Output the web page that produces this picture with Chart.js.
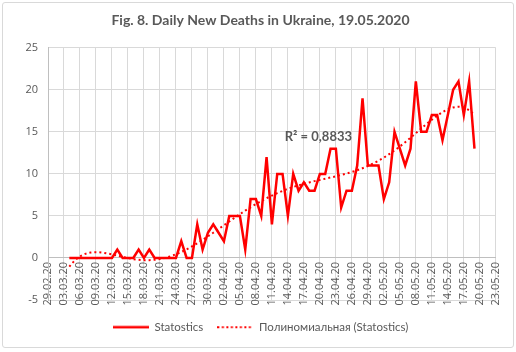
<!DOCTYPE html>
<html>
<head>
<meta charset="utf-8">
<script src="https://cdn.jsdelivr.net/npm/chart.js@4.4.1/dist/chart.umd.min.js"></script>
<style>
  body { margin: 0; background: #fff; }
  .box { position: absolute; left: 2px; top: 2px; width: 510px; height: 344px; border: 1px solid #d9d9d9; border-radius: 3px; }
</style>
</head>
<body>
<div class="box"><canvas id="chartDeaths" width="510" height="344"></canvas></div>
<script>
  // x axis: day index counted from 29.02.20 (0) to 23.05.20 (84), a label every 3 days
  const tickLabels = ['29.02.20', '03.03.20', '06.03.20', '09.03.20', '12.03.20', '15.03.20', '18.03.20',
    '21.03.20', '24.03.20', '27.03.20', '30.03.20', '02.04.20', '05.04.20', '08.04.20', '11.04.20',
    '14.04.20', '17.04.20', '20.04.20', '23.04.20', '26.04.20', '29.04.20', '02.05.20', '05.05.20',
    '08.05.20', '11.05.20', '14.05.20', '17.05.20', '20.05.20', '23.05.20'];

  // daily new deaths, 04.03.20 .. 19.05.20
  const firstDay = 4;
  const deathsMarch = [0, 0, 0, 0, 0, 0, 0, 0, 0, 1, 0, 0, 0, 1, 0, 1, 0, 0, 0, 0, 0, 2, 0, 0, 4, 1, 3, 4];
  const deathsApril = [3, 2, 5, 5, 5, 1, 7, 7, 5, 12, 4, 10, 10, 5, 10, 8, 9, 8, 8, 10, 10, 13, 13, 6, 8, 8, 11, 19, 11, 11];
  const deathsMay = [11, 7, 9, 15, 13, 11, 13, 21, 15, 15, 17, 17, 14, 17, 20, 21, 17, 21, 13];
  const deaths = deathsMarch.concat(deathsApril, deathsMay);
  const days = deaths.map((v, i) => firstDay + i);

  const trendOrder = 6;
  const r2Text = 'R² = 0,8833';

  // least squares polynomial trendline (like Excel's "polynomial" trendline)
  function polyFit(xs, ys, order) {
    const n = order + 1;
    const mid = (xs[0] + xs[xs.length - 1]) / 2;
    const half = (xs[xs.length - 1] - xs[0]) / 2;
    const A = Array.from({length: n}, () => new Array(n + 1).fill(0));
    xs.forEach((x, k) => {
      const t = (x - mid) / half;
      const p = [];
      for (let i = 0; i < n; i++) p.push(Math.pow(t, i));
      for (let i = 0; i < n; i++) {
        for (let j = 0; j < n; j++) A[i][j] += p[i] * p[j];
        A[i][n] += p[i] * ys[k];
      }
    });
    for (let c = 0; c < n; c++) {
      let piv = c;
      for (let r = c + 1; r < n; r++) if (Math.abs(A[r][c]) > Math.abs(A[piv][c])) piv = r;
      [A[c], A[piv]] = [A[piv], A[c]];
      for (let r = 0; r < n; r++) {
        if (r === c) continue;
        const f = A[r][c] / A[c][c];
        for (let j = c; j <= n; j++) A[r][j] -= f * A[c][j];
      }
    }
    const coef = A.map((row, i) => row[n] / row[i]);
    return x => {
      const t = (x - mid) / half;
      return coef.reduce((s, a, i) => s + a * Math.pow(t, i), 0);
    };
  }

  const trend = polyFit(days, deaths, trendOrder);
  const trendPoints = [];
  for (let d = days[0]; d <= days[days.length - 1]; d += 0.5) trendPoints.push({x: d, y: trend(d)});

  const grey = '#595959';
  const font = 'Lato, "Open Sans", sans-serif';
  const tickFont = '"Open Sans", sans-serif';

  // little line samples for the legend (solid / dotted)
  function legendSample(dash, width) {
    const c = document.createElement('canvas');
    c.width = 36;
    c.height = 4;
    const g = c.getContext('2d');
    g.strokeStyle = '#ff0000';
    g.lineWidth = width;
    g.setLineDash(dash);
    g.beginPath();
    g.moveTo(0, 2);
    g.lineTo(36, 2);
    g.stroke();
    return c;
  }

  const r2Label = {
    id: 'r2Label',
    afterDatasetsDraw(chart) {
      const c = chart.ctx;
      c.save();
      c.font = 'bold 13px ' + font;
      c.fillStyle = grey;
      c.textBaseline = 'middle';
      c.fillText(r2Text, chart.scales.x.getPixelForValue(44.4), chart.scales.y.getPixelForValue(14.4));
      c.restore();
    }
  };

  const ctx = document.getElementById('chartDeaths');

  new Chart(ctx, {
    type: 'line',
    data: {
      datasets: [{
        label: 'Statostics',
        data: days.map((d, i) => ({x: d, y: deaths[i]})),
        borderColor: '#ff0000',
        backgroundColor: '#ff0000',
        borderWidth: 2.5,
        pointRadius: 0,
        pointStyle: legendSample([], 2.5),
        tension: 0
      }, {
        label: 'Полиномиальная (Statostics)',
        data: trendPoints,
        borderColor: '#ff0000',
        backgroundColor: '#ff0000',
        borderWidth: 2,
        borderDash: [2, 3],
        pointRadius: 0,
        pointStyle: legendSample([2, 2.5], 2),
        tension: 0
      }]
    },
    options: {
      responsive: false,
      animation: false,
      devicePixelRatio: 1,
      layout: {
        padding: {left: 20, right: 15, top: 0, bottom: 4}
      },
      plugins: {
        title: {
          display: true,
          text: 'Fig. 8. Daily New Deaths in Ukraine, 19.05.2020',
          color: grey,
          font: {family: font, size: 14, weight: 'bold'},
          padding: {top: 9, bottom: 19}
        },
        legend: {
          position: 'bottom',
          title: {display: true, text: '', font: {size: 1}, padding: {top: 0, bottom: 6.3}},
          labels: {
            usePointStyle: true,
            pointStyleWidth: 36,
            color: grey,
            font: {family: font, size: 11.5},
            padding: 14
          }
        },
        tooltip: {enabled: false}
      },
      scales: {
        x: {
          type: 'linear',
          position: {y: 0},
          min: 0,
          max: tickLabels.length * 3 - 3,
          afterBuildTicks: (s) => { s.ticks = tickLabels.map((l, i) => ({value: i * 3})); },
          grid: {color: '#d9d9d9', drawTicks: false},
          border: {color: '#bfbfbf'},
          ticks: {
            autoSkip: false,
            minRotation: 90,
            maxRotation: 90,
            padding: 4,
            color: grey,
            font: {family: tickFont, size: 11},
            callback: (v) => tickLabels[Math.round(v / 3)]
          }
        },
        y: {
          min: -5,
          max: 25,
          afterFit: (s) => { s.width = 25; },
          grid: {color: '#d9d9d9', drawTicks: false},
          border: {color: '#bfbfbf'},
          ticks: {
            stepSize: 5,
            padding: 10,
            color: grey,
            font: {family: tickFont, size: 11}
          }
        }
      }
    },
    plugins: [r2Label]
  });
</script>
</body>
</html>
